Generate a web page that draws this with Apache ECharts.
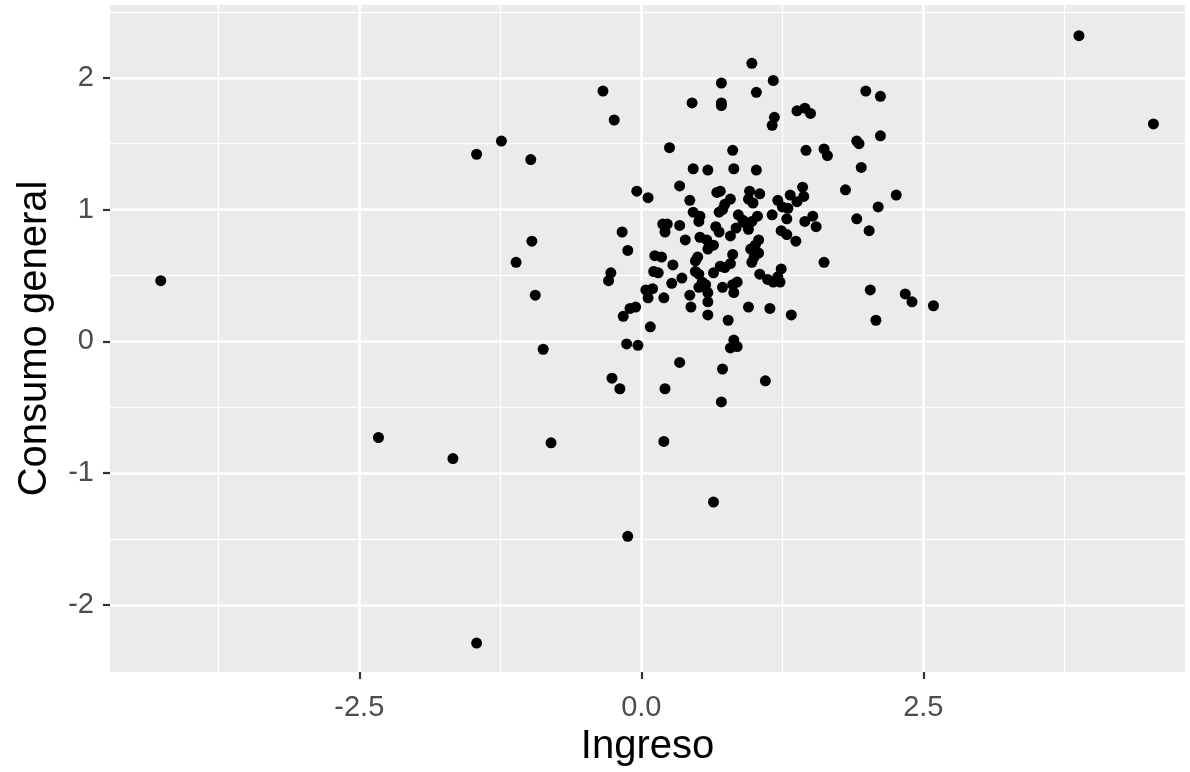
<!DOCTYPE html>
<html>
<head>
<meta charset="utf-8">
<script src="https://cdn.jsdelivr.net/npm/echarts@6/dist/echarts.min.js"></script>
<style>
html,body{margin:0;padding:0;background:#fff;}
#chart{width:1190px;height:772px;}
</style>
</head>
<body>
<div id="chart"></div>
<script>
// Data
const ingreso = [
-4.26,3.88,4.54,-2.33,-1.67,-1.46,-1.46,-1.24,-0.98,-0.97,
-1.11,-0.94,-0.87,-0.80,-0.34,-0.24,-0.12,0.64,0.20,0.71,
0.21,-0.19,-0.26,0.34,0.72,1.10,0.98,0.71,1.17,1.02,
0.71,0.71,0.45,0.25,1.99,2.12,2.12,1.91,1.93,1.95,
1.81,2.26,2.10,1.91,2.02,2.03,2.34,2.40,2.59,2.08,
1.62,1.38,1.45,1.50,1.18,1.16,0.81,1.46,1.62,1.65,
0.82,1.02,0.46,0.59,1.43,0.34,-0.04,0.06,0.43,0.67,
0.70,0.96,1.05,0.79,0.74,0.72,0.69,0.95,0.99,1.32,
1.44,1.38,1.21,1.25,1.30,0.86,0.90,0.92,0.98,1.03,
1.16,1.29,1.52,1.45,1.55,0.46,0.52,0.51,0.19,0.23,
0.21,0.34,0.66,0.69,0.84,0.95,0.79,1.24,1.29,1.37,
1.04,1.01,0.39,0.52,0.58,0.64,0.59,0.81,0.50,0.48,
0.97,1.00,0.98,-0.17,-0.12,0.12,0.18,0.28,0.70,0.74,
0.79,0.48,0.51,0.64,0.11,0.15,-0.27,-0.29,0.36,0.27,
0.04,0.10,0.06,0.20,0.43,0.54,0.57,0.51,0.59,0.59,
0.72,0.81,0.85,0.82,0.44,0.59,-0.10,-0.05,-0.16,0.08,
-0.13,-0.03,0.77,0.82,0.85,0.79,0.95,1.14,1.33,1.05,
1.12,1.17,1.23,1.24,1.21,1.04
];
const consumoGeneral = [
0.46,2.32,1.65,-0.73,-0.89,-2.29,1.42,1.52,1.38,0.76,
0.60,0.35,-0.06,-0.77,1.90,1.68,-1.48,-1.22,-0.76,-0.46,
-0.36,-0.36,-0.28,-0.16,-0.21,-0.30,2.11,1.96,1.98,1.89,
1.81,1.79,1.81,1.47,1.90,1.86,1.56,1.52,1.50,1.32,
1.15,1.11,1.02,0.93,0.84,0.39,0.36,0.30,0.27,0.16,
0.60,1.75,1.77,1.73,1.70,1.64,1.45,1.45,1.46,1.41,
1.31,1.30,1.31,1.30,1.17,1.18,1.14,1.09,1.07,1.13,
1.14,1.14,1.12,1.08,1.04,1.00,0.98,1.08,1.05,1.11,
1.10,1.06,1.07,1.02,1.01,0.96,0.92,0.90,0.91,0.95,
0.96,0.93,0.95,0.91,0.87,0.98,0.95,0.91,0.89,0.89,
0.83,0.88,0.87,0.83,0.86,0.85,0.80,0.84,0.81,0.76,
0.77,0.73,0.77,0.79,0.77,0.73,0.70,0.66,0.64,0.61,
0.70,0.64,0.60,0.83,0.69,0.65,0.64,0.58,0.57,0.56,
0.59,0.53,0.51,0.52,0.53,0.52,0.52,0.46,0.48,0.44,
0.39,0.40,0.33,0.33,0.35,0.45,0.43,0.41,0.37,0.30,
0.41,0.43,0.45,0.37,0.26,0.20,0.25,0.26,0.19,0.11,
-0.02,-0.03,0.16,0.01,-0.04,-0.05,0.26,0.25,0.20,0.51,
0.47,0.45,0.45,0.55,0.49,0.67
];
const xMajorTicks = [-2.5, 0, 2.5];
const xMinorTicks = [-3.75, -1.25, 1.25, 3.75];
const yMajorTicks = [-2, -1, 0, 1, 2];
const yMinorTicks = [-1.5, -0.5, 0.5, 1.5, 2.5];
const xLimits = [-4.71, 4.82];
const yLimits = [-2.51, 2.553];

const points = ingreso.map((x, i) => [x, consumoGeneral[i]]);

const font = 'Liberation Sans, Arial, sans-serif';
const tickLabelStyle = {color: '#4D4D4D', fontSize: 29, fontFamily: font};

function minorAxis(pos, vals, lim) {
  return {
    type: 'value', min: lim[0], max: lim[1], gridIndex: 0, position: pos,
    axisLine: {show: false, onZero: false}, axisLabel: {show: false, customValues: vals},
    axisTick: {show: false, customValues: vals},
    splitLine: {show: true, lineStyle: {color: '#FFFFFF', width: 1.3}}
  };
}

const chart = echarts.init(document.getElementById('chart'), null, {renderer: 'canvas'});
chart.setOption({
  backgroundColor: '#FFFFFF',
  animation: false,
  grid: {left: 110, right: 5, top: 5, bottom: 99, show: true, backgroundColor: '#EBEBEB', borderWidth: 0},
  xAxis: [
    minorAxis('top', xMinorTicks, xLimits),
    {
      type: 'value', min: xLimits[0], max: xLimits[1], position: 'bottom',
      name: 'Ingreso', nameLocation: 'middle', nameGap: 55,
      nameTextStyle: {color: '#000000', fontSize: 40, fontFamily: font},
      axisLine: {show: false, onZero: false},
      axisTick: {show: true, customValues: xMajorTicks, length: 7, lineStyle: {color: '#333333', width: 2.2}},
      axisLabel: {customValues: xMajorTicks, margin: 21, ...tickLabelStyle,
        formatter: v => v.toFixed(1)},
      splitLine: {show: true, lineStyle: {color: '#FFFFFF', width: 2.6}}
    }
  ],
  yAxis: [
    minorAxis('right', yMinorTicks, yLimits),
    {
      type: 'value', min: yLimits[0], max: yLimits[1], position: 'left',
      name: 'Consumo general', nameLocation: 'middle', nameGap: 55, nameRotate: 90,
      nameTextStyle: {color: '#000000', fontSize: 40, fontFamily: font},
      axisLine: {show: false, onZero: false},
      axisTick: {show: true, customValues: yMajorTicks, length: 7, lineStyle: {color: '#333333', width: 2.2}},
      axisLabel: {customValues: yMajorTicks, margin: 16, ...tickLabelStyle,
        formatter: v => String(v)},
      splitLine: {show: true, lineStyle: {color: '#FFFFFF', width: 2.6}}
    }
  ],
  series: [{
    type: 'scatter', xAxisIndex: 1, yAxisIndex: 1,
    data: points, symbol: 'circle', symbolSize: 11,
    itemStyle: {color: '#000000', opacity: 1},
    z: 5
  }]
});
</script>
</body>
</html>
